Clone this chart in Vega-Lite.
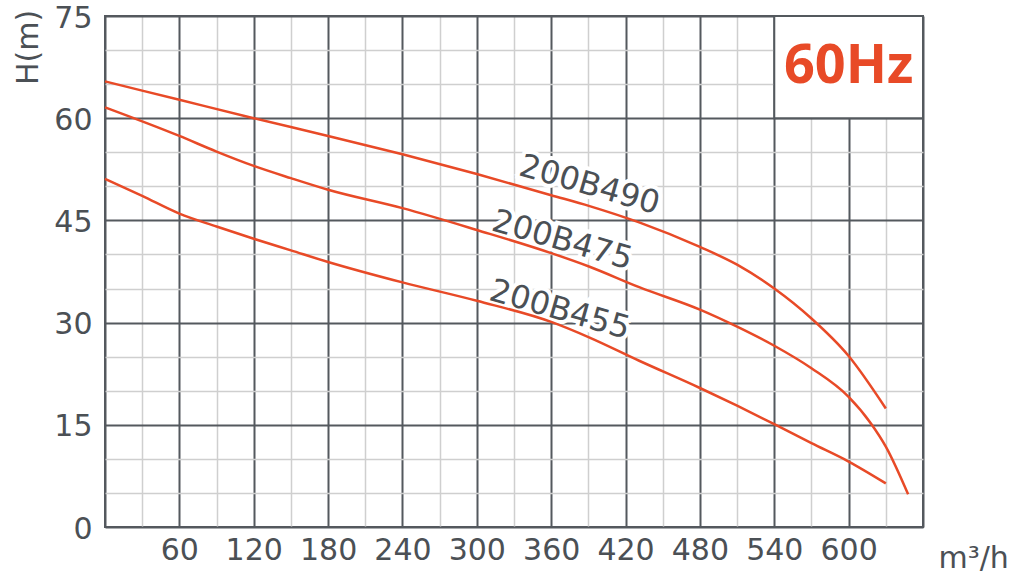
{
  "$schema": "https://vega.github.io/schema/vega-lite/v6.json",
  "width": 818,
  "height": 511,
  "autosize": {"type": "none"},
  "padding": {"left": 105, "top": 16, "right": 98, "bottom": 47},
  "config": {"view": {"stroke": "#54595e", "strokeWidth": 2}, "font": "DejaVu Sans"},
  "datasets": {
    "curves": [
      {"model": "200B490", "q": 0, "h": 65.4},
      {"model": "200B490", "q": 60, "h": 62.7},
      {"model": "200B490", "q": 120, "h": 60.0},
      {"model": "200B490", "q": 180, "h": 57.4},
      {"model": "200B490", "q": 240, "h": 54.7},
      {"model": "200B490", "q": 300, "h": 51.8},
      {"model": "200B490", "q": 360, "h": 48.7},
      {"model": "200B490", "q": 391, "h": 47.1},
      {"model": "200B490", "q": 431, "h": 44.7},
      {"model": "200B490", "q": 480, "h": 41.1},
      {"model": "200B490", "q": 510, "h": 38.5},
      {"model": "200B490", "q": 540, "h": 35.0},
      {"model": "200B490", "q": 570, "h": 30.6},
      {"model": "200B490", "q": 600, "h": 25.1},
      {"model": "200B490", "q": 630, "h": 17.4},
      {"model": "200B475", "q": 0, "h": 61.6},
      {"model": "200B475", "q": 60, "h": 57.4},
      {"model": "200B475", "q": 90, "h": 55.1},
      {"model": "200B475", "q": 120, "h": 53.0},
      {"model": "200B475", "q": 150, "h": 51.2},
      {"model": "200B475", "q": 180, "h": 49.5},
      {"model": "200B475", "q": 240, "h": 46.8},
      {"model": "200B475", "q": 300, "h": 43.6},
      {"model": "200B475", "q": 360, "h": 40.2},
      {"model": "200B475", "q": 391, "h": 38.2},
      {"model": "200B475", "q": 431, "h": 35.2},
      {"model": "200B475", "q": 480, "h": 31.9},
      {"model": "200B475", "q": 510, "h": 29.4},
      {"model": "200B475", "q": 540, "h": 26.6},
      {"model": "200B475", "q": 570, "h": 23.3},
      {"model": "200B475", "q": 600, "h": 19.1},
      {"model": "200B475", "q": 618, "h": 15.2},
      {"model": "200B475", "q": 630, "h": 11.8},
      {"model": "200B475", "q": 648, "h": 4.8},
      {"model": "200B455", "q": 0, "h": 51.1},
      {"model": "200B455", "q": 30, "h": 48.6},
      {"model": "200B455", "q": 60, "h": 46.0},
      {"model": "200B455", "q": 90, "h": 44.1},
      {"model": "200B455", "q": 120, "h": 42.3},
      {"model": "200B455", "q": 150, "h": 40.6},
      {"model": "200B455", "q": 180, "h": 38.9},
      {"model": "200B455", "q": 240, "h": 35.9},
      {"model": "200B455", "q": 300, "h": 33.2},
      {"model": "200B455", "q": 360, "h": 30.1},
      {"model": "200B455", "q": 391, "h": 27.8},
      {"model": "200B455", "q": 431, "h": 24.4},
      {"model": "200B455", "q": 480, "h": 20.4},
      {"model": "200B455", "q": 510, "h": 17.8},
      {"model": "200B455", "q": 540, "h": 15.1},
      {"model": "200B455", "q": 570, "h": 12.3},
      {"model": "200B455", "q": 600, "h": 9.6},
      {"model": "200B455", "q": 630, "h": 6.4}
    ],
    "labels": [
      {"model": "200B490", "q": 391, "h": 50.2},
      {"model": "200B475", "q": 369, "h": 42.1},
      {"model": "200B455", "q": 367, "h": 31.9}
    ],
    "box": [
      {"q": 540, "q2": 660, "h": 60, "h2": 75, "t": "60Hz", "tq": 600, "th": 67.5}
    ]
  },
  "encoding": {
    "x": {
      "field": "q", "type": "quantitative",
      "scale": {"domain": [0, 660], "nice": false, "zero": false},
      "axis": {
        "values": [0, 30, 60, 90, 120, 150, 180, 210, 240, 270, 300, 330, 360, 390, 420, 450, 480, 510, 540, 570, 600, 630, 660],
        "grid": true,
        "gridColor": {"condition": {"test": "datum.value % 60 === 0", "value": "#54595e"}, "value": "#cfcfcf"},
        "gridWidth": {"condition": {"test": "datum.value % 60 === 0", "value": 2}, "value": 1.5},
        "domain": false,
        "ticks": false,
        "labelExpr": "datum.value % 60 === 0 && datum.value > 0 && datum.value < 660 ? datum.label : ''",
        "labelFont": "DejaVu Sans",
        "labelFontSize": 30,
        "labelColor": "#4b5055",
        "labelPadding": 8,
        "labelFlush": false,
        "labelOverlap": false,
        "title": "m³/h",
        "titleX": 833,
        "titleY": 40,
        "titleAlign": "left",
        "titleBaseline": "alphabetic",
        "titleFont": "DejaVu Sans",
        "titleFontSize": 30,
        "titleFontWeight": "normal",
        "titleColor": "#4b5055"
      }
    },
    "y": {
      "field": "h", "type": "quantitative",
      "scale": {"domain": [0, 75], "nice": false, "zero": false},
      "axis": {
        "values": [0, 5, 10, 15, 20, 25, 30, 35, 40, 45, 50, 55, 60, 65, 70, 75],
        "grid": true,
        "gridColor": {"condition": {"test": "datum.value % 15 === 0", "value": "#54595e"}, "value": "#cfcfcf"},
        "gridWidth": {"condition": {"test": "datum.value % 15 === 0", "value": 2}, "value": 1.5},
        "domain": false,
        "ticks": false,
        "labelExpr": "datum.value % 15 === 0 ? datum.label : ''",
        "labelFont": "DejaVu Sans",
        "labelFontSize": 30,
        "labelColor": "#4b5055",
        "labelPadding": 13,
        "labelOffset": 2,
        "labelFlush": false,
        "labelOverlap": false,
        "title": "H(m)",
        "titleX": -77,
        "titleY": 31,
        "titleAngle": 270,
        "titleAlign": "center",
        "titleBaseline": "middle",
        "titleFont": "DejaVu Sans",
        "titleFontSize": 30,
        "titleFontWeight": "normal",
        "titleColor": "#4b5055"
      }
    }
  },
  "layer": [
    {
      "data": {"name": "box"},
      "mark": {"type": "rect", "fill": "white", "stroke": "#54595e", "strokeWidth": 2},
      "encoding": {
        "x2": {"field": "q2"},
        "y2": {"field": "h2"}
      }
    },
    {
      "data": {"name": "labels"},
      "mark": {"type": "text", "angle": 16, "fontSize": 32, "font": "DejaVu Sans", "stroke": "white", "strokeWidth": 8, "fill": "white", "align": "center", "baseline": "middle"},
      "encoding": {
        "text": {"field": "model", "type": "nominal"}
      }
    },
    {
      "data": {"name": "curves"},
      "mark": {"type": "line", "interpolate": "monotone", "color": "#e84a27", "strokeWidth": 2.5},
      "encoding": {
        "detail": {"field": "model", "type": "nominal"}
      }
    },
    {
      "data": {"name": "labels"},
      "mark": {"type": "text", "angle": 16, "fontSize": 32, "font": "DejaVu Sans", "fill": "#4b5055", "align": "center", "baseline": "middle"},
      "encoding": {
        "text": {"field": "model", "type": "nominal"}
      }
    },
    {
      "data": {"name": "box"},
      "mark": {"type": "text", "fontSize": 54, "font": "Open Sans", "fontWeight": "bold", "fill": "#e84a27", "align": "center", "baseline": "middle"},
      "encoding": {
        "x": {"field": "tq", "type": "quantitative"},
        "y": {"field": "th", "type": "quantitative"},
        "text": {"field": "t", "type": "nominal"}
      }
    }
  ]
}
